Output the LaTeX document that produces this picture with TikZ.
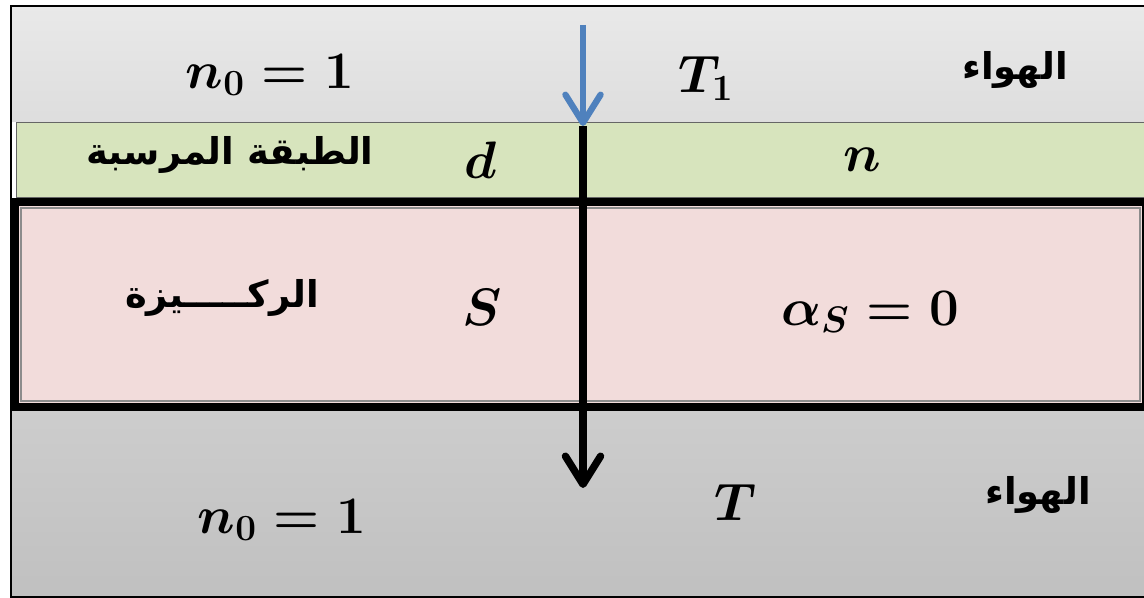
\documentclass[tikz,border=0pt]{standalone}
\usepackage{fix-cm}
\usepackage[no-math]{fontspec}
\usetikzlibrary{arrows.meta}
\newfontfamily\arabicfont[Script=Arabic]{DejaVu Sans}
\TeXXeTstate=1
\definecolor{airtop}{HTML}{E9E9E9}
\definecolor{airlow}{HTML}{CDCDCD}
\definecolor{airlowb}{HTML}{C0C0C0}
\definecolor{layergreen}{HTML}{D7E4BD}
\definecolor{basepink}{HTML}{F2DCDB}
\definecolor{raybl}{HTML}{4F81BD}

\begin{document}
\begin{tikzpicture}[x=0.02cm, y=-0.02cm,
    mathlbl/.style={font=\fontsize{30}{36}\selectfont\boldmath},
    arlbl/.style={font=\fontsize{21}{25}\selectfont\arabicfont\bfseries},
    beam/.style={line width=3.6pt, -{Straight Barb[length=16pt, width=20pt, round]}}]
    \useasboundingbox (0,0) rectangle (1144,598);

    % bands
    \path[top color=airtop, bottom color=airtop!95!black] (11,6) rectangle (1150,122);
    \draw[fill=layergreen, draw=black!60, line width=0.5pt] (16,122) rectangle (1150,197);
    \path[top color=airlow, bottom color=airlowb] (11,407) rectangle (1150,597);
    \draw[fill=basepink, line width=5pt] (15,202) rectangle (1146,407);
    \draw[black!45, line width=0.6pt] (21,208) rectangle (1140,401);
    \draw[line width=0.8pt] (1150,6) -- (11,6) -- (11,597) -- (1150,597);

    % ray
    \coordinate (rayIn) at (583,25);
    \coordinate (rayHit) at (583,126);
    \coordinate (rayOut) at (583,488);
    \draw[beam, raybl] (rayIn) -- (rayHit);
    \draw[beam, black, line width=4.2pt] (rayHit) -- (rayOut);

    % labels
    \node (nTop) [mathlbl] at (270,75) {$n_{\mathbf{0}}=\mathbf{1}$};
    \node (Tone) [mathlbl] at (706,78) {$T_{\mathbf{1}}$};
    \node (airTop) [arlbl] at (1015,70) {\beginR الهواء\endR};
    \node (layerName) [arlbl] at (230,155) {\beginR الطبقة المرسبة\endR};
    \node (thick) [mathlbl] at (481,160) {$d$};
    \node (index) [mathlbl] at (862,160) {$n$};
    \node (baseName) [arlbl] at (222,298) {\beginR الركـــــيزة\endR};
    \node (base) [mathlbl] at (482,307) {$S$};
    \node (absorb) [mathlbl] at (870,312) {$\alpha_S=\mathbf{0}$};
    \node (nLow) [mathlbl] at (282,520) {$n_{\mathbf{0}}=\mathbf{1}$};
    \node (Tout) [mathlbl] at (735,502) {$T$};
    \node (airLow) [arlbl] at (1038,495) {\beginR الهواء\endR};
\end{tikzpicture}
\end{document}
